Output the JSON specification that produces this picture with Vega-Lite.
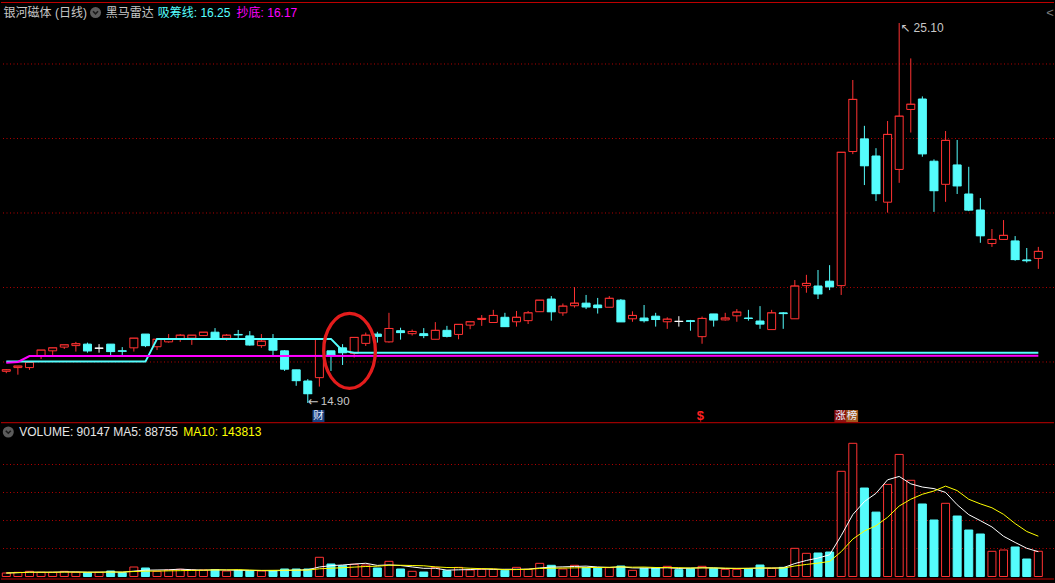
{
  "$schema": "https://vega.github.io/schema/vega-lite/v6.json",
  "width": 1055,
  "height": 583,
  "autosize": {"type": "fit", "contains": "padding"},
  "padding": 0,
  "background": "#000000",
  "config": {
    "view": {"stroke": null},
    "scale": {"continuousPadding": 0},
    "text": {"font": "Liberation Sans, DejaVu Sans, Noto Sans CJK SC"}
  },
  "datasets": {
    "k": [
      {"i":0,"o":15.75,"c":15.79,"h":15.81,"l":15.70,"v":12500},
      {"i":1,"o":15.85,"c":15.89,"h":15.89,"l":15.66,"v":15000},
      {"i":2,"o":15.85,"c":15.99,"h":15.99,"l":15.79,"v":18500},
      {"i":3,"o":16.16,"c":16.32,"h":16.32,"l":16.08,"v":15000},
      {"i":4,"o":16.30,"c":16.38,"h":16.38,"l":16.19,"v":15000},
      {"i":5,"o":16.40,"c":16.46,"h":16.46,"l":16.35,"v":18500},
      {"i":6,"o":16.44,"c":16.49,"h":16.54,"l":16.28,"v":15000},
      {"i":7,"o":16.48,"c":16.30,"h":16.52,"l":16.25,"v":13700},
      {"i":8,"o":16.37,"c":16.37,"h":16.48,"l":16.25,"v":15000},
      {"i":9,"o":16.48,"c":16.28,"h":16.48,"l":16.16,"v":19600},
      {"i":10,"o":16.30,"c":16.29,"h":16.40,"l":16.19,"v":13700},
      {"i":11,"o":16.38,"c":16.64,"h":16.64,"l":16.28,"v":33900},
      {"i":12,"o":16.75,"c":16.44,"h":16.75,"l":16.40,"v":30400},
      {"i":13,"o":16.41,"c":16.61,"h":16.61,"l":16.32,"v":18500},
      {"i":14,"o":16.54,"c":16.61,"h":16.75,"l":16.52,"v":23200},
      {"i":15,"o":16.63,"c":16.72,"h":16.75,"l":16.54,"v":25600},
      {"i":16,"o":16.64,"c":16.72,"h":16.72,"l":16.46,"v":23200},
      {"i":17,"o":16.71,"c":16.80,"h":16.80,"l":16.71,"v":23200},
      {"i":18,"o":16.80,"c":16.64,"h":16.91,"l":16.64,"v":24400},
      {"i":19,"o":16.64,"c":16.72,"h":16.75,"l":16.57,"v":19600},
      {"i":20,"o":16.74,"c":16.73,"h":16.86,"l":16.64,"v":22000},
      {"i":21,"o":16.70,"c":16.46,"h":16.83,"l":16.44,"v":19600},
      {"i":22,"o":16.44,"c":16.56,"h":16.75,"l":16.38,"v":19600},
      {"i":23,"o":16.61,"c":16.32,"h":16.75,"l":16.17,"v":20700},
      {"i":24,"o":16.30,"c":15.81,"h":16.32,"l":15.76,"v":26800},
      {"i":25,"o":15.79,"c":15.50,"h":15.79,"l":15.36,"v":26800},
      {"i":26,"o":15.49,"c":15.15,"h":15.54,"l":14.90,"v":26800},
      {"i":27,"o":15.58,"c":16.61,"h":16.61,"l":15.34,"v":68600},
      {"i":28,"o":16.30,"c":16.19,"h":16.30,"l":15.76,"v":44600},
      {"i":29,"o":16.38,"c":16.25,"h":16.48,"l":15.92,"v":38600},
      {"i":30,"o":16.23,"c":16.66,"h":16.66,"l":16.12,"v":43600},
      {"i":31,"o":16.50,"c":16.72,"h":16.79,"l":16.43,"v":41000},
      {"i":32,"o":16.75,"c":16.69,"h":16.81,"l":16.52,"v":30400},
      {"i":33,"o":16.54,"c":16.90,"h":17.32,"l":16.52,"v":54200},
      {"i":34,"o":16.84,"c":16.79,"h":16.92,"l":16.60,"v":26800},
      {"i":35,"o":16.76,"c":16.82,"h":16.87,"l":16.71,"v":18500},
      {"i":36,"o":16.76,"c":16.71,"h":16.91,"l":16.64,"v":16000},
      {"i":37,"o":16.61,"c":16.85,"h":17.07,"l":16.61,"v":31500},
      {"i":38,"o":16.85,"c":16.69,"h":16.97,"l":16.66,"v":20700},
      {"i":39,"o":16.74,"c":17.01,"h":17.01,"l":16.61,"v":32700},
      {"i":40,"o":16.99,"c":17.08,"h":17.08,"l":16.88,"v":23200},
      {"i":41,"o":17.14,"c":17.17,"h":17.26,"l":16.97,"v":25600},
      {"i":42,"o":17.06,"c":17.25,"h":17.40,"l":17.06,"v":25600},
      {"i":43,"o":17.20,"c":16.95,"h":17.32,"l":16.95,"v":22000},
      {"i":44,"o":17.08,"c":17.20,"h":17.37,"l":16.95,"v":32700},
      {"i":45,"o":17.11,"c":17.32,"h":17.37,"l":17.02,"v":25600},
      {"i":46,"o":17.35,"c":17.66,"h":17.66,"l":17.35,"v":47000},
      {"i":47,"o":17.69,"c":17.35,"h":17.77,"l":17.11,"v":40000},
      {"i":48,"o":17.32,"c":17.50,"h":17.57,"l":17.24,"v":26800},
      {"i":49,"o":17.51,"c":17.58,"h":18.01,"l":17.46,"v":40000},
      {"i":50,"o":17.58,"c":17.48,"h":17.80,"l":17.42,"v":31500},
      {"i":51,"o":17.53,"c":17.46,"h":17.72,"l":17.30,"v":31500},
      {"i":52,"o":17.47,"c":17.71,"h":17.77,"l":17.47,"v":31500},
      {"i":53,"o":17.66,"c":17.08,"h":17.69,"l":17.08,"v":37500},
      {"i":54,"o":17.16,"c":17.25,"h":17.36,"l":17.08,"v":22000},
      {"i":55,"o":17.18,"c":17.11,"h":17.53,"l":17.06,"v":29200},
      {"i":56,"o":17.23,"c":17.14,"h":17.32,"l":16.95,"v":31500},
      {"i":57,"o":17.08,"c":17.15,"h":17.20,"l":16.89,"v":36300},
      {"i":58,"o":17.09,"c":17.09,"h":17.23,"l":16.95,"v":24400},
      {"i":59,"o":17.11,"c":17.09,"h":17.13,"l":16.84,"v":27900},
      {"i":60,"o":16.68,"c":17.17,"h":17.22,"l":16.49,"v":36300},
      {"i":61,"o":17.29,"c":17.13,"h":17.29,"l":16.95,"v":29200},
      {"i":62,"o":17.13,"c":17.18,"h":17.32,"l":17.11,"v":25600},
      {"i":63,"o":17.24,"c":17.34,"h":17.42,"l":17.08,"v":25600},
      {"i":64,"o":17.18,"c":17.17,"h":17.40,"l":17.11,"v":27900},
      {"i":65,"o":17.10,"c":17.02,"h":17.50,"l":16.89,"v":41000},
      {"i":66,"o":16.87,"c":17.32,"h":17.40,"l":16.87,"v":29200},
      {"i":67,"o":17.32,"c":17.30,"h":17.34,"l":16.89,"v":32700},
      {"i":68,"o":17.16,"c":18.04,"h":18.20,"l":17.16,"v":100600},
      {"i":69,"o":18.05,"c":18.11,"h":18.34,"l":17.86,"v":82800},
      {"i":70,"o":18.04,"c":17.83,"h":18.47,"l":17.69,"v":83900},
      {"i":71,"o":18.17,"c":18.02,"h":18.60,"l":17.93,"v":87500},
      {"i":72,"o":18.05,"c":21.63,"h":21.63,"l":17.80,"v":375700},
      {"i":73,"o":21.65,"c":23.05,"h":23.57,"l":21.58,"v":475700},
      {"i":74,"o":21.99,"c":21.27,"h":22.34,"l":20.75,"v":316000},
      {"i":75,"o":21.53,"c":20.52,"h":21.74,"l":20.32,"v":230000},
      {"i":76,"o":20.29,"c":22.11,"h":22.47,"l":20.01,"v":329000},
      {"i":77,"o":21.17,"c":22.60,"h":25.10,"l":20.81,"v":436000},
      {"i":78,"o":22.78,"c":22.92,"h":24.15,"l":22.16,"v":343600},
      {"i":79,"o":23.06,"c":21.59,"h":23.13,"l":21.51,"v":259000},
      {"i":80,"o":21.39,"c":20.60,"h":21.44,"l":20.03,"v":201800},
      {"i":81,"o":20.77,"c":21.95,"h":22.20,"l":20.30,"v":261400},
      {"i":82,"o":21.29,"c":20.73,"h":21.96,"l":20.51,"v":216000},
      {"i":83,"o":20.51,"c":20.08,"h":21.24,"l":20.05,"v":166000},
      {"i":84,"o":20.08,"c":19.39,"h":20.40,"l":19.20,"v":151800},
      {"i":85,"o":19.18,"c":19.29,"h":19.57,"l":19.09,"v":90000},
      {"i":86,"o":19.29,"c":19.40,"h":19.81,"l":19.29,"v":94600},
      {"i":87,"o":19.25,"c":18.75,"h":19.38,"l":18.72,"v":105400},
      {"i":88,"o":18.74,"c":18.72,"h":19.06,"l":18.67,"v":62500},
      {"i":89,"o":18.78,"c":18.97,"h":19.09,"l":18.50,"v":90147}
    ],
    "xc": [
      {"i":0,"v":16.01},{"i":12,"v":16.01},{"i":13,"v":16.62},{"i":28,"v":16.62},
      {"i":29,"v":16.30},{"i":30,"v":16.25},{"i":89,"v":16.25}
    ],
    "cd": [
      {"i":0,"v":15.98},{"i":1,"v":16.00},{"i":2,"v":16.16},{"i":89,"v":16.17}
    ]
  },
  "resolve": {"scale": {"y": "independent"}},
  "layer": [
    {
      "data": {"name": "k"},
      "layer": [
        {
          "data": {"values": [{"p": 16}, {"p": 18}, {"p": 20}, {"p": 22}, {"p": 24}]},
          "mark": {"type": "rule", "stroke": "#b40000", "strokeWidth": 1, "strokeDash": [1, 2.5]},
          "encoding": {
            "y": {"field": "p", "type": "quantitative", "scale": {"domain": [10.067, 25.718], "nice": false, "zero": false}, "axis": null}
          }
        },
        {
          "mark": {"type": "rule", "strokeWidth": 1},
          "encoding": {
            "x": {"field": "i", "type": "quantitative", "scale": {"domain": [-0.4562, 90.3511], "nice": false, "zero": false, "padding": 0}, "axis": null},
            "y": {"field": "l", "type": "quantitative", "scale": {"domain": [10.067, 25.718], "nice": false, "zero": false}, "axis": null},
            "y2": {"field": "h"},
            "stroke": {"condition": [{"test": "datum.c > datum.o", "value": "#ff3232"}, {"test": "datum.c < datum.o", "value": "#54fcfc"}], "value": "#ffffff"}
          }
        },
        {
          "mark": {"type": "bar", "orient": "vertical", "width": 8, "strokeWidth": 1},
          "encoding": {
            "x": {"field": "i", "type": "quantitative", "scale": {"domain": [-0.4562, 90.3511], "nice": false, "zero": false, "padding": 0}, "axis": null},
            "y": {"field": "o", "type": "quantitative", "scale": {"domain": [10.067, 25.718], "nice": false, "zero": false}, "axis": null},
            "y2": {"field": "c"},
            "fill": {"condition": [{"test": "datum.c > datum.o", "value": "#000000"}, {"test": "datum.c < datum.o", "value": "#54fcfc"}], "value": "#ffffff"},
            "stroke": {"condition": [{"test": "datum.c > datum.o", "value": "#ff3232"}, {"test": "datum.c < datum.o", "value": "#54fcfc"}], "value": "#ffffff"}
          }
        },
        {
          "mark": {"type": "tick", "orient": "horizontal", "size": 9, "thickness": 1},
          "encoding": {
            "x": {"field": "i", "type": "quantitative", "scale": {"domain": [-0.4562, 90.3511], "nice": false, "zero": false, "padding": 0}, "axis": null},
            "y": {"field": "c", "type": "quantitative", "scale": {"domain": [10.067, 25.718], "nice": false, "zero": false}, "axis": null},
            "color": {"condition": [{"test": "datum.c > datum.o", "value": "#ff3232"}, {"test": "datum.c < datum.o", "value": "#54fcfc"}], "value": "#ffffff"}
          }
        },
        {
          "data": {"name": "xc"},
          "mark": {"type": "line", "stroke": "#55ffff", "strokeWidth": 2},
          "encoding": {
            "x": {"field": "i", "type": "quantitative", "scale": {"domain": [-0.4562, 90.3511], "nice": false, "zero": false, "padding": 0}, "axis": null},
            "y": {"field": "v", "type": "quantitative", "scale": {"domain": [10.067, 25.718], "nice": false, "zero": false}, "axis": null}
          }
        },
        {
          "data": {"name": "cd"},
          "mark": {"type": "line", "stroke": "#ff00ff", "strokeWidth": 2},
          "encoding": {
            "x": {"field": "i", "type": "quantitative", "scale": {"domain": [-0.4562, 90.3511], "nice": false, "zero": false, "padding": 0}, "axis": null},
            "y": {"field": "v", "type": "quantitative", "scale": {"domain": [10.067, 25.718], "nice": false, "zero": false}, "axis": null}
          }
        },
        {
          "data": {"values": [{"p": 25.651}, {"p": 14.37}, {"p": 10.174}]},
          "mark": {"type": "rule", "stroke": "#c00000", "strokeWidth": 1},
          "encoding": {
            "y": {"field": "p", "type": "quantitative", "scale": {"domain": [10.067, 25.718], "nice": false, "zero": false}, "axis": null}
          }
        },
        {
          "data": {"values": [{}]},
          "mark": {"type": "point", "shape": "M 0.689 0 C 0.689 0.5523 0.3806 1 0 1 C -0.3806 1 -0.689 0.5523 -0.689 0 C -0.689 -0.5523 -0.3806 -1 0 -1 C 0.3806 -1 0.689 -0.5523 0.689 0 Z", "size": 5625, "filled": false, "stroke": "#e31c1c", "strokeWidth": 3.3, "opacity": 1},
          "encoding": {
            "x": {"datum": 29.6, "type": "quantitative", "scale": {"domain": [-0.4562, 90.3511], "nice": false, "zero": false, "padding": 0}, "axis": null},
            "y": {"datum": 16.30, "type": "quantitative", "scale": {"domain": [10.067, 25.718], "nice": false, "zero": false}, "axis": null}
          }
        },
        {
          "data": {"values": [{}]},
          "mark": {"type": "text", "text": "↖ 25.10", "align": "left", "baseline": "middle", "dy": 5, "dx": 1, "fontSize": 12, "color": "#c8c8c8"},
          "encoding": {
            "x": {"datum": 77, "type": "quantitative", "scale": {"domain": [-0.4562, 90.3511], "nice": false, "zero": false, "padding": 0}, "axis": null},
            "y": {"datum": 25.10, "type": "quantitative", "scale": {"domain": [10.067, 25.718], "nice": false, "zero": false}, "axis": null}
          }
        },
        {
          "data": {"values": [{}]},
          "mark": {"type": "text", "text": "←", "align": "left", "baseline": "middle", "dy": -1, "fontSize": 13, "font": "DejaVu Sans", "color": "#c8c8c8"},
          "encoding": {
            "x": {"datum": 26, "type": "quantitative", "scale": {"domain": [-0.4562, 90.3511], "nice": false, "zero": false, "padding": 0}, "axis": null},
            "y": {"datum": 14.90, "type": "quantitative", "scale": {"domain": [10.067, 25.718], "nice": false, "zero": false}, "axis": null}
          }
        },
        {
          "data": {"values": [{}]},
          "mark": {"type": "text", "text": "14.90", "align": "left", "baseline": "middle", "dy": -1, "dx": 13, "fontSize": 11.5, "color": "#c8c8c8"},
          "encoding": {
            "x": {"datum": 26, "type": "quantitative", "scale": {"domain": [-0.4562, 90.3511], "nice": false, "zero": false, "padding": 0}, "axis": null},
            "y": {"datum": 14.90, "type": "quantitative", "scale": {"domain": [10.067, 25.718], "nice": false, "zero": false}, "axis": null}
          }
        },
        {
          "data": {"values": [{"i": 26.92, "p": 14.55, "bg": "#17407f"}, {"i": 71.93, "p": 14.55, "bg": "#8b1010"}, {"i": 72.94, "p": 14.55, "bg": "#a0561c"}]},
          "mark": {"type": "point", "shape": "square", "size": 144, "filled": true, "opacity": 1},
          "encoding": {
            "x": {"field": "i", "type": "quantitative", "scale": {"domain": [-0.4562, 90.3511], "nice": false, "zero": false, "padding": 0}, "axis": null},
            "y": {"field": "p", "type": "quantitative", "scale": {"domain": [10.067, 25.718], "nice": false, "zero": false}, "axis": null},
            "fill": {"field": "bg", "type": "nominal", "scale": null}
          }
        },
        {
          "data": {"values": [{"i": 26.92, "p": 14.55, "t": "财"}, {"i": 71.93, "p": 14.55, "t": "涨"}, {"i": 72.94, "p": 14.55, "t": "榜"}]},
          "mark": {"type": "text", "align": "center", "baseline": "middle", "fontSize": 10.5, "color": "#e8eeff", "font": "Noto Sans CJK SC"},
          "encoding": {
            "x": {"field": "i", "type": "quantitative", "scale": {"domain": [-0.4562, 90.3511], "nice": false, "zero": false, "padding": 0}, "axis": null},
            "y": {"field": "p", "type": "quantitative", "scale": {"domain": [10.067, 25.718], "nice": false, "zero": false}, "axis": null},
            "text": {"field": "t"}
          }
        },
        {
          "data": {"values": [{}]},
          "mark": {"type": "text", "text": "$", "align": "center", "baseline": "middle", "fontSize": 13, "fontWeight": "bold", "color": "#ff2020"},
          "encoding": {
            "x": {"datum": 59.86, "type": "quantitative", "scale": {"domain": [-0.4562, 90.3511], "nice": false, "zero": false, "padding": 0}, "axis": null},
            "y": {"datum": 14.55, "type": "quantitative", "scale": {"domain": [10.067, 25.718], "nice": false, "zero": false}, "axis": null}
          }
        },
        {
          "data": {"values": [{"i": 7.695, "p": 25.382}, {"i": 0.172, "p": 14.121}]},
          "mark": {"type": "point", "shape": "circle", "size": 121, "filled": true, "color": "#5c5c5c", "opacity": 1},
          "encoding": {
            "x": {"field": "i", "type": "quantitative", "scale": {"domain": [-0.4562, 90.3511], "nice": false, "zero": false, "padding": 0}, "axis": null},
            "y": {"field": "p", "type": "quantitative", "scale": {"domain": [10.067, 25.718], "nice": false, "zero": false}, "axis": null}
          }
        },
        {
          "data": {"values": [{"i": 7.695, "p": 25.382}, {"i": 0.172, "p": 14.121}]},
          "mark": {"type": "point", "shape": "M -0.5 -0.25 L 0 0.25 L 0.5 -0.25", "size": 100, "filled": false, "stroke": "#1a1a1a", "strokeWidth": 1.6, "opacity": 1},
          "encoding": {
            "x": {"field": "i", "type": "quantitative", "scale": {"domain": [-0.4562, 90.3511], "nice": false, "zero": false, "padding": 0}, "axis": null},
            "y": {"field": "p", "type": "quantitative", "scale": {"domain": [10.067, 25.718], "nice": false, "zero": false}, "axis": null}
          }
        },
        {
          "data": {"values": [
            {"i": -0.23, "p": 25.382, "t": "银河磁体 (日线)", "col": "#c8c8c8"},
            {"i": 8.58, "p": 25.382, "t": "黑马雷达", "col": "#c8c8c8"},
            {"i": 13.06, "p": 25.382, "t": "吸筹线: 16.25", "col": "#55ffff"},
            {"i": 19.86, "p": 25.382, "t": "抄底: 16.17", "col": "#ff00ff"},
            {"i": 1.119, "p": 14.121, "t": "VOLUME: 90147  MA5: 88755", "col": "#e6e6e6"},
            {"i": 15.27, "p": 14.121, "t": "MA10: 143813", "col": "#ffff00"}
          ]},
          "mark": {"type": "text", "align": "left", "baseline": "middle", "fontSize": 12},
          "encoding": {
            "x": {"field": "i", "type": "quantitative", "scale": {"domain": [-0.4562, 90.3511], "nice": false, "zero": false, "padding": 0}, "axis": null},
            "y": {"field": "p", "type": "quantitative", "scale": {"domain": [10.067, 25.718], "nice": false, "zero": false}, "axis": null},
            "text": {"field": "t"},
            "color": {"field": "col", "type": "nominal", "scale": null}
          }
        },
        {
          "data": {"values": [{}]},
          "mark": {"type": "text", "text": "<", "align": "center", "baseline": "middle", "fontSize": 13, "color": "#7a7a7a"},
          "encoding": {
            "x": {"datum": 90.0, "type": "quantitative", "scale": {"domain": [-0.4562, 90.3511], "nice": false, "zero": false, "padding": 0}, "axis": null},
            "y": {"datum": 25.382, "type": "quantitative", "scale": {"domain": [10.067, 25.718], "nice": false, "zero": false}, "axis": null}
          }
        }
      ]
    },
    {
      "data": {"name": "k"},
      "transform": [
        {"window": [{"op": "mean", "field": "v", "as": "ma5"}], "frame": [-4, 0], "sort": [{"field": "i"}]},
        {"window": [{"op": "mean", "field": "v", "as": "ma10"}], "frame": [-9, 0], "sort": [{"field": "i"}]},
        {"window": [{"op": "lag", "field": "c", "as": "pc"}], "sort": [{"field": "i"}]}
      ],
      "layer": [
        {
          "data": {"values": [{"q": 100000}, {"q": 200000}, {"q": 300000}, {"q": 400000}]},
          "mark": {"type": "rule", "stroke": "#b40000", "strokeWidth": 1, "strokeDash": [1, 2.5]},
          "encoding": {
            "y": {"field": "q", "type": "quantitative", "scale": {"domain": [-23214, 2058929], "nice": false, "zero": false}, "axis": null}
          }
        },
        {
          "mark": {"type": "bar", "orient": "vertical", "width": 8, "strokeWidth": 1},
          "encoding": {
            "x": {"field": "i", "type": "quantitative", "scale": {"domain": [-0.4562, 90.3511], "nice": false, "zero": false, "padding": 0}, "axis": null},
            "y": {"field": "v", "type": "quantitative", "stack": null, "scale": {"domain": [-23214, 2058929], "nice": false, "zero": false}, "axis": null},
            "y2": {"datum": 0},
            "fill": {"condition": {"test": "datum.c > datum.o || (datum.c == datum.o && datum.c >= datum.pc)", "value": "#000000"}, "value": "#54fcfc"},
            "stroke": {"condition": {"test": "datum.c > datum.o || (datum.c == datum.o && datum.c >= datum.pc)", "value": "#ff3232"}, "value": "#54fcfc"}
          }
        },
        {
          "mark": {"type": "line", "stroke": "#ffffff", "strokeWidth": 1},
          "encoding": {
            "x": {"field": "i", "type": "quantitative", "scale": {"domain": [-0.4562, 90.3511], "nice": false, "zero": false, "padding": 0}, "axis": null},
            "y": {"field": "ma5", "type": "quantitative", "scale": {"domain": [-23214, 2058929], "nice": false, "zero": false}, "axis": null}
          }
        },
        {
          "mark": {"type": "line", "stroke": "#ffff00", "strokeWidth": 1},
          "encoding": {
            "x": {"field": "i", "type": "quantitative", "scale": {"domain": [-0.4562, 90.3511], "nice": false, "zero": false, "padding": 0}, "axis": null},
            "y": {"field": "ma10", "type": "quantitative", "scale": {"domain": [-23214, 2058929], "nice": false, "zero": false}, "axis": null}
          }
        }
      ]
    }
  ]
}
